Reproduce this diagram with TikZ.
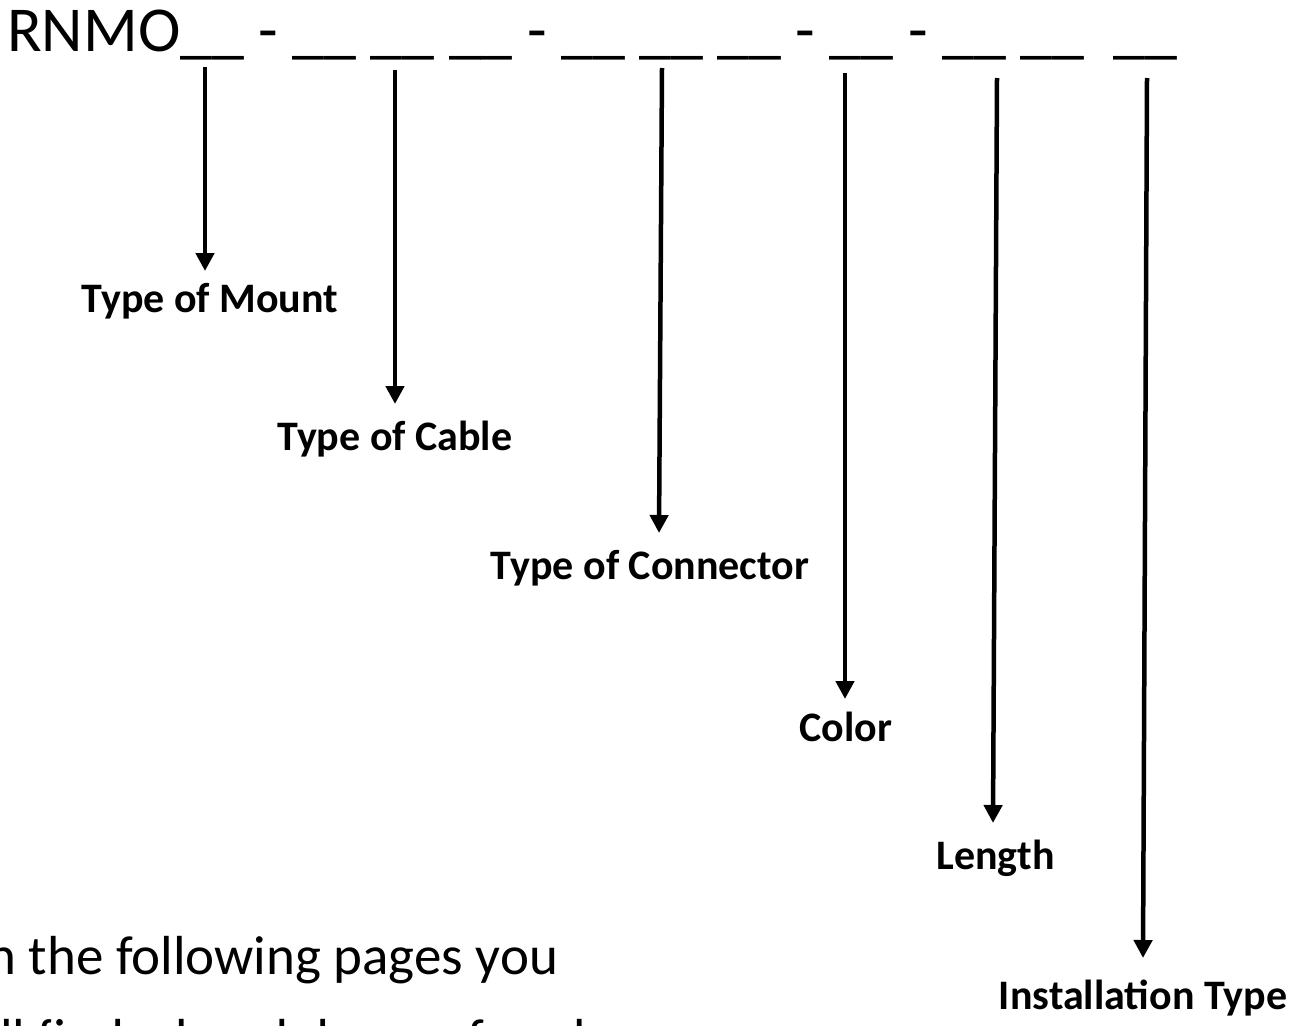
\documentclass[tikz,border=0pt]{standalone}
\usepackage{fontspec}
\setmainfont{Carlito}
\usetikzlibrary{arrows.meta}
\begin{document}
\begin{tikzpicture}[x=1pt,y=-1pt,
  ptr/.style={line width=4.5pt,-{Triangle[length=18pt,width=18pt]}},
  lbl/.style={anchor=base,inner sep=0pt,font=\fontsize{42}{50}\selectfont\bfseries},
  big/.style={inner sep=0pt,font=\fontsize{64}{76}\selectfont},
  body/.style={inner sep=0pt,font=\fontsize{55}{66}\selectfont}]
\useasboundingbox (0,0) rectangle (1306,1025);
\clip (0,0) rectangle (1306,1025);
\fill[white] (0,0) rectangle (1306,1025);
% code line
\node[big,anchor=base west] (code) at (7,52) {RNMO\_\_ - \_\_ \_\_ \_\_ - \_\_ \_\_ \_\_ - \_\_ - \_\_ \_\_\ \ \_\_};
% start and end points of the pointers
\coordinate (s1) at (205,67);   \coordinate (t1) at (205,271);
\coordinate (s2) at (395,70);   \coordinate (t2) at (395,404);
\coordinate (s3) at (662,68);   \coordinate (t3) at (659,533);
\coordinate (s4) at (845,73);   \coordinate (t4) at (845,699);
\coordinate (s5) at (997,78);   \coordinate (t5) at (993,823);
\coordinate (s6) at (1147,78);  \coordinate (t6) at (1143,958);
% labels
\node[lbl] (mount) at (210,312) {Type of Mount};
\node[lbl] (cable) at (395,450) {Type of Cable};
\node[lbl] (conn)  at (650,579) {Type of Connector};
\node[lbl] (color) at (846,741) {Color};
\node[lbl] (len)   at (995.5,869) {Length};
\node[lbl] (inst)  at (1143,1009) {Installation Type};
% pointers
\draw[ptr] (s1) -- (t1);
\draw[ptr] (s2) -- (t2);
\draw[ptr] (s3) -- (t3);
\draw[ptr] (s4) -- (t4);
\draw[ptr] (s5) -- (t5);
\draw[ptr] (s6) -- (t6);
% body text (cropped at the left and bottom edges, as in the reference)
\node[body,anchor=base west] (line1) at (-49,974) {On the following pages you};
\node[body,anchor=base west] (line2) at (-52,1057) {will find a breakdown of each};
\end{tikzpicture}
\end{document}
